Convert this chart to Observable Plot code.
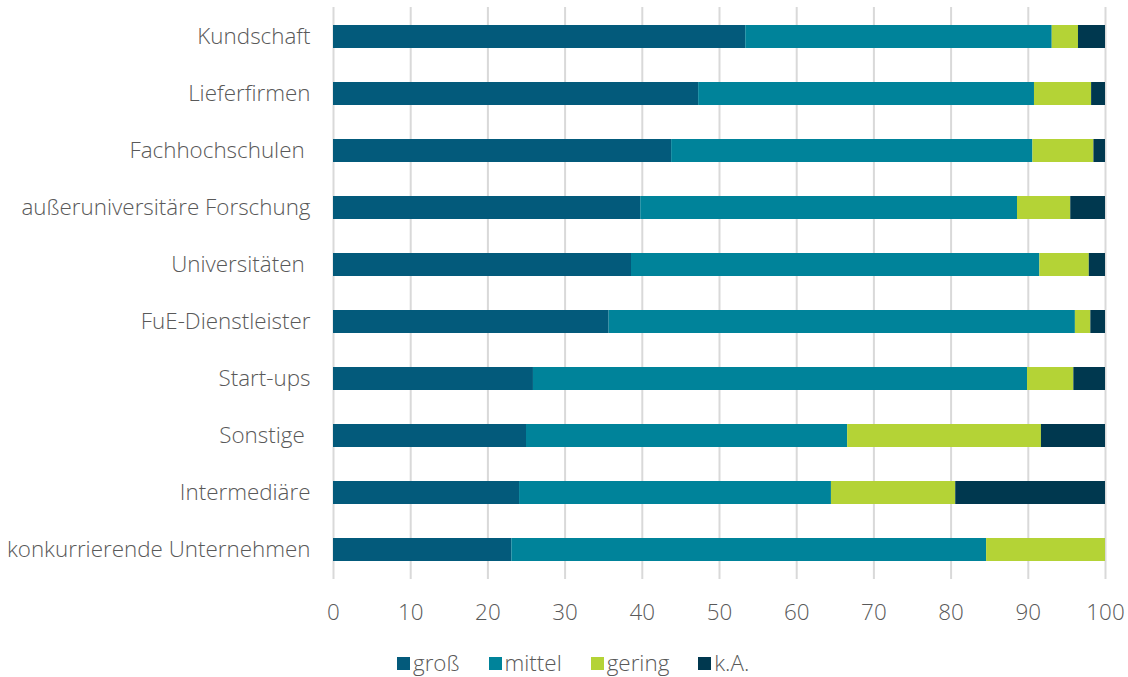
<!DOCTYPE html>
<html>
<head>
<meta charset="utf-8">
<script src="https://cdn.jsdelivr.net/npm/d3@7"></script>
<script src="https://cdn.jsdelivr.net/npm/@observablehq/plot@0.6"></script>
<style>
  html, body { margin: 0; padding: 0; background: #fff; }
  #wrap { position: relative; width: 1128px; height: 677px; font-family: "Open Sans", sans-serif; font-weight: 300; color: #595959; }
  #legend { position: absolute; left: 397px; top: 648px; display: flex; align-items: center; font-size: 22.4px; line-height: 30px; }
  #legend .item { display: flex; align-items: center; margin-right: 29px; }
  #legend .sw { width: 13px; height: 13px; margin-right: 3px; }
</style>
</head>
<body>
<div id="wrap">
  <div id="chart"></div>
  <div id="legend"></div>
</div>
<script>
const categories = [
  "Kundschaft",
  "Lieferfirmen",
  "Fachhochschulen\u00a0",
  "außeruniversitäre Forschung",
  "Universitäten\u00a0",
  "FuE-Dienstleister",
  "Start-ups",
  "Sonstige\u00a0",
  "Intermediäre",
  "konkurrierende Unternehmen"
];
const series = ["groß", "mittel", "gering", "k.A."];
const gross  = [53.4, 47.3, 43.8, 39.8, 38.6, 35.7, 25.9, 25.0, 24.1, 23.1];
const mittel = [39.7, 43.5, 46.8, 48.8, 52.9, 60.4, 64.0, 41.6, 40.4, 61.5];
const gering = [3.4, 7.4, 7.9, 6.9, 6.4, 2.0, 6.0, 25.1, 16.1, 15.4];
const ka     = [3.5, 1.8, 1.5, 4.5, 2.1, 1.9, 4.1, 8.3, 19.4, 0.0];
const xTicks = [0, 10, 20, 30, 40, 50, 60, 70, 80, 90, 100];
const colors = ["#035a7b", "#00839a", "#b4d336", "#00384f"];

const valuesBySeries = [gross, mittel, gering, ka];
const data = [];
categories.forEach((c, i) => {
  series.forEach((s, j) => {
    data.push({category: c, series: s, value: valuesBySeries[j][i]});
  });
});

const chart = Plot.plot({
  width: 1128,
  height: 630,
  marginLeft: 333,
  marginRight: 23,
  marginTop: 7,
  marginBottom: 51,
  style: {fontFamily: "'Open Sans', sans-serif", fontWeight: 300, fontSize: "22.4px", color: "#595959", background: "#fff"},
  x: {domain: [0, 100], ticks: xTicks},
  y: {domain: categories, paddingInner: 0.6, paddingOuter: 0.3},
  color: {domain: series, range: colors},
  marks: [
    Plot.gridX(xTicks, {stroke: "#d9d9d9", strokeOpacity: 1, strokeWidth: 2}),
    Plot.barX(data, Plot.stackX({x: "value", y: "category", fill: "series", z: "series", order: series})),
    Plot.axisX(xTicks, {tickSize: 0, tickPadding: 25, fontSize: 22.4, label: null}),
    Plot.axisY({tickSize: 0, tickPadding: 23, fontSize: 22.4, label: null})
  ]
});
document.getElementById("chart").appendChild(chart);

const legend = document.getElementById("legend");
series.forEach((s, j) => {
  const item = document.createElement("div");
  item.className = "item";
  const sw = document.createElement("div");
  sw.className = "sw";
  sw.style.background = colors[j];
  const t = document.createElement("span");
  t.textContent = s;
  item.appendChild(sw);
  item.appendChild(t);
  legend.appendChild(item);
});
</script>
</body>
</html>
